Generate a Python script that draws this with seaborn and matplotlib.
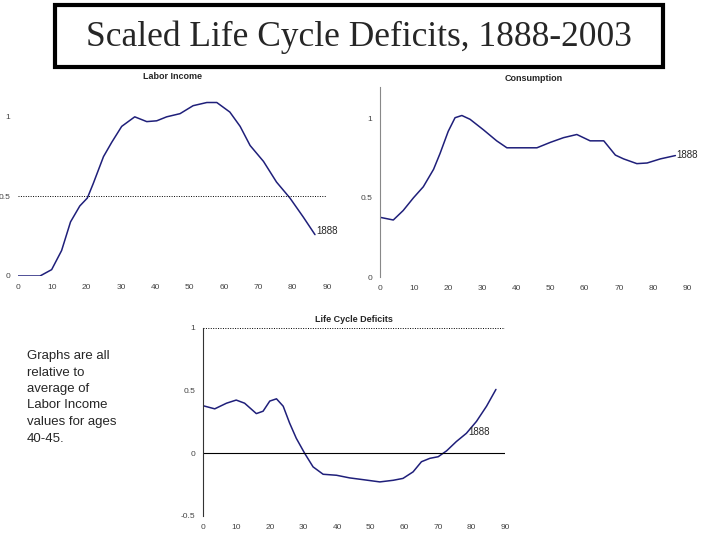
import matplotlib
matplotlib.use("Agg")
import matplotlib.pyplot as plt
import matplotlib.patches as mpatches
import seaborn as sns
import pandas as pd

# Datos (edad, valor escalado)
edad_ingreso = [0, 6.4, 9.8, 12.7, 15.3, 18, 20.2, 21.9, 24.9, 27.3, 30.2, 34, 37.5, 40.4,
                43.3, 47.2, 51, 55, 57.9, 61.7, 64.7, 67.6, 71.5, 75.3, 79.2, 83.1, 86.5]
ingreso = [0, 0, 0.04, 0.16, 0.34, 0.44, 0.49, 0.58, 0.75, 0.84, 0.94, 1.0, 0.97, 0.975,
           1.0, 1.02, 1.07, 1.09, 1.09, 1.03, 0.94, 0.82, 0.72, 0.59, 0.49, 0.37, 0.26]

edad_consumo = [0, 3.9, 6.8, 9.8, 12.7, 15.7, 17.6, 20, 22, 24, 26.4, 30.3, 34.2, 37.2,
                41.1, 46, 49.9, 53.8, 57.7, 61.6, 65.6, 69, 71.4, 75.3, 78.3, 82.2, 86.6]
consumo = [0.377, 0.36, 0.42, 0.50, 0.57, 0.68, 0.78, 0.92, 1.006, 1.02, 0.996, 0.93, 0.86,
           0.816, 0.816, 0.816, 0.85, 0.88, 0.90, 0.86, 0.86, 0.77, 0.746, 0.716, 0.72,
           0.746, 0.767]

edad_deficit = [0, 3.5, 7, 9.9, 12.4, 15.9, 17.9, 19.9, 21.9, 23.9, 25.8, 27.8, 30.3, 32.8,
                35.8, 39.8, 43.7, 47.7, 52.7, 56.7, 59.6, 62.6, 65.1, 67.6, 70.1, 72.6,
                75.5, 78.5, 81.5, 84.5, 87.3]
deficit = [0.38, 0.355, 0.40, 0.425, 0.40, 0.317, 0.336, 0.417, 0.435, 0.376, 0.242, 0.12,
           0.0, -0.108, -0.167, -0.175, -0.196, -0.21, -0.228, -0.215, -0.20, -0.148,
           -0.067, -0.04, -0.027, 0.02, 0.094, 0.16, 0.255, 0.376, 0.51]

xticks = list(range(0, 100, 10))
azul = '#1f1f7a'

sns.set_style("white")
plt.rcParams['font.family'] = ['Liberation Sans', 'DejaVu Sans']

fig = plt.figure(figsize=(7.2, 5.4), dpi=100)


def rect(x0, x1, ybot, ytop):
    # posición en píxeles -> coordenadas de figura
    return [x0 / 720, (540 - ybot) / 540, (x1 - x0) / 720, (ybot - ytop) / 540]


def estilo(ax, titulo, yticks, ylabels):
    ax.set_xlim(0, 90)
    ax.set_xticks(xticks)
    ax.set_yticks(yticks)
    ax.set_yticklabels(ylabels)
    ax.tick_params(axis='both', labelsize=6, colors='#444444', length=3,
                   direction='inout', pad=4, width=0.6)
    ax.set_xlabel('')
    ax.set_ylabel('')
    ax.set_title(titulo, fontsize=6.5, fontweight='bold', pad=4)
    for s in ax.spines.values():
        s.set_visible(False)


#------- INGRESO LABORAL -------#
ax1 = fig.add_axes(rect(18, 327, 276, 85))
sns.lineplot(data=pd.DataFrame({'edad': edad_ingreso, 'v': ingreso}), x='edad', y='v',
             ax=ax1, color=azul, linewidth=1.1)
ax1.set_ylim(0, 1.2)
ax1.axhline(0.5, color='black', linestyle=(0, (1, 1.5)), linewidth=0.7)
estilo(ax1, 'Labor Income', [0, 0.5, 1], ['0', '0.5', '1'])
ax1.text(86.8, 0.28, '1888', fontsize=7, va='center', ha='left')

#------- CONSUMO -------#
ax2 = fig.add_axes(rect(380, 687, 277, 87))
sns.lineplot(data=pd.DataFrame({'edad': edad_consumo, 'v': consumo}), x='edad', y='v',
             ax=ax2, color=azul, linewidth=1.1)
ax2.set_ylim(0, 1.2)
estilo(ax2, 'Consumption', [0, 0.5, 1], ['0', '0.5', '1'])
ax2.spines['left'].set_visible(True)
ax2.spines['left'].set_color('#888888')
ax2.spines['left'].set_linewidth(0.8)
ax2.text(87, 0.77, '1888', fontsize=7, va='center', ha='left')

#------- DEFICIT -------#
ax3 = fig.add_axes(rect(203, 505, 516, 328))
sns.lineplot(data=pd.DataFrame({'edad': edad_deficit, 'v': deficit}), x='edad', y='v',
             ax=ax3, color=azul, linewidth=1.1)
ax3.set_ylim(-0.5, 1)
ax3.axhline(0, color='black', linewidth=0.8)
ax3.axhline(1, color='black', linestyle=(0, (1, 1.5)), linewidth=0.7)
estilo(ax3, 'Life Cycle Deficits', [-0.5, 0, 0.5, 1], ['-0.5', '0', '0.5', '1'])
ax3.spines['left'].set_visible(True)
ax3.spines['left'].set_color('#333333')
ax3.spines['left'].set_linewidth(0.8)
ax3.text(79, 0.17, '1888', fontsize=7, va='center', ha='left')

# Nota explicativa
fig.text(27 / 720, 1 - 350 / 540,
         'Graphs are all\nrelative to\naverage of\nLabor Income\nvalues for ages\n40-45.',
         fontsize=9.5, va='top', ha='left', linespacing=1.5)

# Título principal con recuadro
fig.patches.append(mpatches.Rectangle((55 / 720, 1 - 67 / 540), 608 / 720, 62 / 540,
                                      transform=fig.transFigure, fill=False,
                                      edgecolor='black', linewidth=3))
fig.text(359 / 720, 1 - 37 / 540, 'Scaled Life Cycle Deficits, 1888-2003',
         fontsize=25.5, family=['Liberation Serif', 'DejaVu Serif'],
         ha='center', va='center')

fig.savefig('out.png', dpi=100)
